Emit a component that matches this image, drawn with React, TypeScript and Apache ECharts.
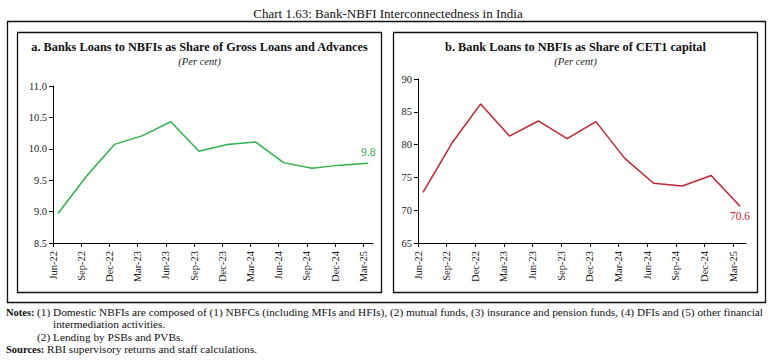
import React, { useEffect, useRef } from "react";
import * as echarts from "echarts";

const quarters = ["Jun-22", "Sep-22", "Dec-22", "Mar-23", "Jun-23", "Sep-23", "Dec-23", "Mar-24", "Jun-24", "Sep-24", "Dec-24", "Mar-25"];
const shareOfGrossLoans = [8.97, 9.56, 10.07, 10.21, 10.43, 9.96, 10.07, 10.11, 9.78, 9.69, 9.74, 9.77];
const shareOfCET1 = [72.7, 80.2, 86.2, 81.3, 83.6, 80.9, 83.5, 77.9, 74.1, 73.7, 75.3, 70.6];
const leftTicks = { min: 8.5, max: 11, interval: 0.5 };
const rightTicks = { min: 65, max: 90, interval: 5 };

const SERIF = "'Liberation Serif', 'DejaVu Serif', serif";
const GREEN = "#2eb04b";
const RED = "#c62231";
const NOTE_SIZE = 11.3;

export default function App() {
  const ref = useRef<HTMLDivElement>(null);
  useEffect(() => {
    if (!ref.current) return;
    const chart = echarts.init(ref.current, null, { renderer: "svg" });
    const labelAxis = (gridIndex: number, max: number) => ({
      type: "value",
      gridIndex,
      min: 0,
      max,
      interval: 1,
      axisLine: { show: true, lineStyle: { color: "#000", width: 1 } },
      axisTick: { show: true, inside: false, length: 4, lineStyle: { color: "#000" } },
      splitLine: { show: false },
      axisLabel: {
        rotate: 90,
        margin: 8,
        fontFamily: SERIF,
        fontSize: 10.5,
        color: "#222",
        showMaxLabel: false,
        formatter: (v: number) => (Number.isInteger(v) && v < quarters.length ? quarters[v] : ""),
      },
    });
    const dataAxis = (gridIndex: number, min: number, max: number) => ({
      type: "value",
      gridIndex,
      min,
      max,
      show: false,
      splitLine: { show: false },
    });
    const yAxis = (gridIndex: number, t: { min: number; max: number; interval: number }, digits: number) => ({
      type: "value",
      gridIndex,
      min: t.min,
      max: t.max,
      interval: t.interval,
      axisLine: { show: true, lineStyle: { color: "#000", width: 1 } },
      axisTick: { show: true, inside: false, length: 4, lineStyle: { color: "#000" } },
      splitLine: { show: false },
      axisLabel: {
        margin: 6,
        fontFamily: SERIF,
        fontSize: 10.5,
        color: "#222",
        formatter: (v: number) => v.toFixed(digits),
      },
    });
    const noteText = (x: number, y: number, text: string) => ({
      type: "text", x, y,
      style: { text, fontFamily: SERIF, fontSize: NOTE_SIZE, fill: "#111", verticalAlign: "middle" },
    });
    chart.setOption({
      animation: false,
      backgroundColor: "#fff",
      grid: [
        { left: 53, top: 86, width: 320, height: 157 },
        { left: 418, top: 79, width: 328, height: 164 },
      ],
      xAxis: [
        labelAxis(0, 320 / 28.2),
        dataAxis(0, -5 / 28.2, 315 / 28.2),
        labelAxis(1, 328 / 28.65),
        dataAxis(1, -5 / 28.82, 323 / 28.82),
      ],
      yAxis: [yAxis(0, leftTicks, 1), yAxis(1, rightTicks, 0)],
      series: [
        {
          type: "line",
          xAxisIndex: 1,
          yAxisIndex: 0,
          data: shareOfGrossLoans.map((v, i) => [i, v]),
          symbol: "none",
          clip: false,
          lineStyle: { color: GREEN, width: 1.5 },
          markPoint: {
            symbol: "circle",
            symbolSize: 0,
            data: [
              {
                coord: [quarters.length - 1, shareOfGrossLoans[shareOfGrossLoans.length - 1]],
                label: {
                  show: true,
                  position: "top",
                  distance: 5,
                  formatter: () => shareOfGrossLoans[shareOfGrossLoans.length - 1].toFixed(1),
                  color: GREEN,
                  fontFamily: SERIF,
                  fontSize: 11.5,
                },
              },
            ],
          },
        },
        {
          type: "line",
          xAxisIndex: 3,
          yAxisIndex: 1,
          data: shareOfCET1.map((v, i) => [i, v]),
          symbol: "none",
          clip: false,
          lineStyle: { color: RED, width: 1.5 },
          markPoint: {
            symbol: "circle",
            symbolSize: 0,
            data: [
              {
                coord: [quarters.length - 1, shareOfCET1[shareOfCET1.length - 1]],
                label: {
                  show: true,
                  position: "bottom",
                  distance: 4,
                  formatter: () => shareOfCET1[shareOfCET1.length - 1].toFixed(1),
                  color: RED,
                  fontFamily: SERIF,
                  fontSize: 11.5,
                },
              },
            ],
          },
        },
      ],
      graphic: [
        { type: "rect", shape: { x: 7.5, y: 21.5, width: 758, height: 281 }, style: { fill: "none", stroke: "#111", lineWidth: 1.3 }, silent: true },
        { type: "rect", shape: { x: 17.5, y: 32.5, width: 364, height: 260 }, style: { fill: "none", stroke: "#111", lineWidth: 1.3 }, silent: true },
        { type: "rect", shape: { x: 393.5, y: 32.5, width: 364, height: 260 }, style: { fill: "none", stroke: "#111", lineWidth: 1.3 }, silent: true },
        {
          type: "text", x: 388, y: 13,
          style: { text: "Chart 1.63: Bank-NBFI Interconnectedness in India", fontFamily: SERIF, fontSize: 13, fill: "#111", align: "center", verticalAlign: "middle" },
        },
        {
          type: "text", x: 199.5, y: 47,
          style: { text: "a. Banks Loans to NBFIs as Share of Gross Loans and Advances", fontFamily: SERIF, fontSize: 12.3, fontWeight: "bold", fill: "#111", align: "center", verticalAlign: "middle" },
        },
        {
          type: "text", x: 199.5, y: 61,
          style: { text: "(Per cent)", fontFamily: SERIF, fontSize: 10.5, fontStyle: "italic", fill: "#222", align: "center", verticalAlign: "middle" },
        },
        {
          type: "text", x: 575.5, y: 47,
          style: { text: "b. Bank Loans to NBFIs as Share of CET1 capital", fontFamily: SERIF, fontSize: 12.3, fontWeight: "bold", fill: "#111", align: "center", verticalAlign: "middle" },
        },
        {
          type: "text", x: 575.5, y: 61,
          style: { text: "(Per cent)", fontFamily: SERIF, fontSize: 10.5, fontStyle: "italic", fill: "#222", align: "center", verticalAlign: "middle" },
        },
        { type: "text", x: 6, y: 312, style: { text: "Notes:", fontFamily: SERIF, fontSize: 10.5, fontWeight: "bold", fill: "#111", verticalAlign: "middle" } },
        noteText(37, 312, "(1)"),
        noteText(53, 312, "Domestic NBFIs are composed of (1) NBFCs (including MFIs and HFIs), (2) mutual funds, (3) insurance and pension funds, (4) DFIs and (5) other financial"),
        noteText(53, 324, "intermediation activities."),
        noteText(37, 337, "(2)"),
        noteText(53, 337, "Lending by PSBs and PVBs."),
        {
          type: "text", x: 6, y: 349,
          style: {
            text: "{b|Sources:} RBI supervisory returns and staff calculations.",
            fontFamily: SERIF, fontSize: NOTE_SIZE, fill: "#111", verticalAlign: "middle",
            rich: { b: { fontFamily: SERIF, fontSize: 10.5, fontWeight: "bold", fill: "#111" } },
          },
        },
      ],
    });
    return () => chart.dispose();
  }, []);
  return <div ref={ref} style={{ position: "fixed", left: 0, top: 0, width: 775, height: 362 }} />;
}
